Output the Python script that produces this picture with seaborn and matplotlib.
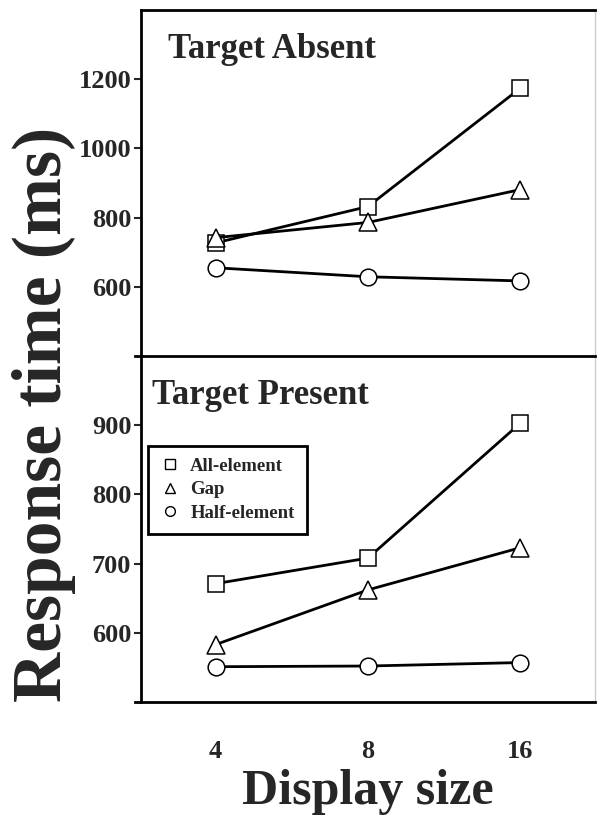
import numpy as np
import pandas as pd
import seaborn as sns
import matplotlib.pyplot as plt
from matplotlib.lines import Line2D

sns.set_style("ticks")
plt.rcParams["font.family"] = ["Liberation Serif", "DejaVu Serif"]
plt.rcParams["font.weight"] = "bold"

# data
display_sizes = ["4", "8", "16"]
conditions = ["All-element", "Gap", "Half-element"]
markers = {"All-element": "s", "Gap": "^", "Half-element": "o"}

absent_all = [727, 832, 1174]
absent_gap = [742, 786, 881]
absent_half = [655, 629, 617]

present_all = [671, 708, 903]
present_gap = [583, 662, 723]
present_half = [551, 552, 557]

x_pos = np.arange(len(display_sizes))

fig = plt.figure(figsize=(5.97, 8.17), dpi=100)
ax_bot = fig.add_axes([141 / 597, 1 - 702 / 817, 454 / 597, 346 / 817])
ax_top = fig.add_axes([141 / 597, 1 - 356 / 817, 454 / 597, 346 / 817])
ax_top.patch.set_visible(False)
ax_bot.patch.set_visible(False)

panels = [
    (ax_top, "Target Absent", [absent_all, absent_gap, absent_half],
     (400, 1400), [600, 800, 1000, 1200], 0.06),
    (ax_bot, "Target Present", [present_all, present_gap, present_half],
     (500, 1000), [600, 700, 800, 900], 0.024),
]

for ax, title, series, ylim, yticks, tx in panels:
    for cond, vals in zip(conditions, series):
        sns.lineplot(x=x_pos, y=vals, ax=ax, color="black", linewidth=2.0,
                     marker=markers[cond], markersize=12 if cond != "Gap" else 13,
                     markerfacecolor="white", markeredgecolor="black",
                     markeredgewidth=1.1, legend=False)
    ax.set_xlim(-0.49, 2.49)
    ax.set_ylim(*ylim)
    ax.set_yticks(yticks)
    ax.set_yticklabels([str(t) for t in yticks], fontsize=19, fontweight="bold")
    ax.tick_params(axis="y", direction="out", length=5, width=1.5, pad=2)
    ax.set_xlabel("")
    ax.set_ylabel("")
    ax.text(tx, 0.885, title, transform=ax.transAxes,
            fontsize=25, fontweight="bold", ha="left", va="center")
    for side in ["left", "top", "bottom"]:
        ax.spines[side].set_linewidth(2.0)
        ax.spines[side].set_color("black")
    ax.spines["right"].set_linewidth(1.0)
    ax.spines["right"].set_color("0.8")

ax_top.set_xticks([])
ax_top.spines["bottom"].set_bounds(-0.49 - 6 / 152, 2.49)
ax_bot.spines["top"].set_visible(False)
ax_bot.spines["bottom"].set_bounds(-0.49 - 6 / 152, 2.49)

ax_bot.set_xticks(x_pos)
ax_bot.set_xticklabels(display_sizes, fontsize=19, fontweight="bold")
ax_bot.tick_params(axis="x", length=0, pad=27)

handles = [Line2D([], [], linestyle="none", marker=markers[c], markersize=7,
                  markerfacecolor="white", markeredgecolor="black",
                  markeredgewidth=1.0) for c in conditions]
leg = ax_bot.legend(handles, conditions, loc="upper left",
                    bbox_to_anchor=(-0.005, 0.768), frameon=True, fancybox=False,
                    framealpha=1, edgecolor="black", prop={"size": 13.5, "weight": "bold"},
                    handletextpad=0.6, labelspacing=0.33, borderpad=0.65,
                    handlelength=1.0)
leg.get_frame().set_linewidth(2.0)

fig.text(368 / 597, 1 - 804 / 817, "Display size", fontsize=36, fontweight="bold",
         ha="center", va="baseline")
fig.text(44 / 597, 1 - 414 / 817, "Response time (ms)", fontsize=50,
         fontweight="bold", rotation=90, ha="center", va="center")

fig.savefig("out.png", dpi=100)
